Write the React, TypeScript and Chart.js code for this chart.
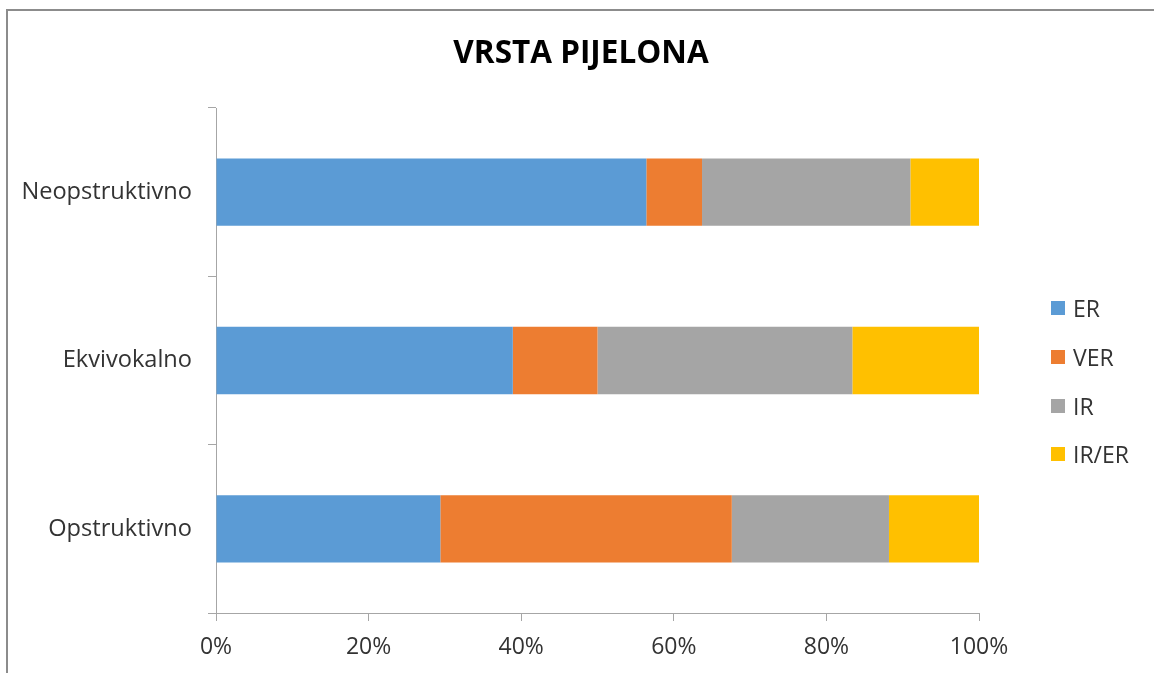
import React, { useEffect, useRef } from "react";
import { Chart, registerables } from "chart.js";

Chart.register(...registerables);

const TITLE = "VRSTA PIJELONA";
const categories = ["Neopstruktivno", "Ekvivokalno", "Opstruktivno"];
const seriesNames = ["ER", "VER", "IR", "IR/ER"];
const seriesColors = ["#5B9BD5", "#ED7D31", "#A5A5A5", "#FFC000"];
// percentage shares per category
const erValues = [56.4, 38.9, 29.4];
const verValues = [7.3, 11.1, 38.2];
const irValues = [27.3, 33.4, 20.6];
const irErValues = [9.0, 16.6, 11.8];
const xTicks = [0, 20, 40, 60, 80, 100];

const FONT = "'Open Sans', 'DejaVu Sans', sans-serif";
const AXIS_COLOR = "#A6A6A6";
const TEXT_COLOR = "#333333";

export default function App() {
  const canvasRef = useRef<HTMLCanvasElement | null>(null);

  useEffect(() => {
    const canvas = canvasRef.current;
    if (!canvas) return;
    const values = [erValues, verValues, irValues, irErValues];
    const chart = new Chart(canvas, {
      type: "bar",
      data: {
        labels: categories,
        datasets: seriesNames.map((name, i) => ({
          label: name,
          data: values[i],
          backgroundColor: seriesColors[i],
          borderWidth: 0,
          barPercentage: 0.4,
          categoryPercentage: 1,
        })),
      },
      options: {
        indexAxis: "y",
        responsive: false,
        animation: false,
        layout: { padding: { left: 0, right: 175, top: 108, bottom: 0 } },
        plugins: {
          legend: { display: false },
          tooltip: { enabled: false },
          title: { display: false },
        },
        scales: {
          x: {
            stacked: true,
            min: 0,
            max: 100,
            afterFit: (scale: any) => {
              scale.height = 60;
            },
            afterBuildTicks: (scale: any) => {
              scale.ticks = xTicks.map((v) => ({ value: v }));
            },
            ticks: {
              color: TEXT_COLOR,
              font: { family: FONT, size: 23 },
              padding: 13,
              callback: (v: any) => v + "%",
              maxRotation: 0,
            },
            grid: {
              drawOnChartArea: false,
              drawTicks: true,
              tickLength: 8,
              color: AXIS_COLOR,
            },
            border: { display: true, color: AXIS_COLOR, width: 1 },
          },
          y: {
            stacked: true,
            afterFit: (scale: any) => {
              scale.width = 216;
            },
            ticks: {
              color: TEXT_COLOR,
              font: { family: FONT, size: 23.6 },
              padding: 16,
            },
            grid: {
              offset: true,
              drawOnChartArea: false,
              drawTicks: true,
              tickLength: 8,
              color: AXIS_COLOR,
            },
            border: { display: true, color: AXIS_COLOR, width: 1 },
          },
        },
      },
    } as any);
    return () => chart.destroy();
  }, []);

  const legendTops = [308, 357, 406, 454];

  return (
    <div
      style={{
        position: "fixed",
        left: 0,
        top: 0,
        width: 1154,
        height: 673,
        overflow: "hidden",
        background: "#ffffff",
      }}
    >
      <div
        style={{
          position: "absolute",
          left: 6,
          top: 9,
          width: 1170,
          height: 690,
          borderLeft: "2px solid #8c8c8c",
          borderTop: "2px solid #8c8c8c",
          boxSizing: "border-box",
        }}
      />
      <canvas
        ref={canvasRef}
        width={1154}
        height={673}
        style={{ position: "absolute", left: 0, top: 0, width: 1154, height: 673 }}
      />
      <div
        style={{
          position: "absolute",
          left: 0,
          top: 33,
          width: 1162,
          textAlign: "center",
          fontFamily: FONT,
          fontSize: 31.5,
          fontWeight: "bold",
          lineHeight: "36px",
          color: "#000000",
          whiteSpace: "nowrap",
        }}
      >
        {TITLE}
      </div>
      {seriesNames.map((name, i) => (
        <div
          key={name}
          style={{
            position: "absolute",
            left: 1051,
            top: legendTops[i] - 15,
            height: 30,
            display: "flex",
            alignItems: "center",
            fontFamily: FONT,
            fontSize: 23,
            color: TEXT_COLOR,
            whiteSpace: "nowrap",
          }}
        >
          <span
            style={{
              display: "inline-block",
              width: 14,
              height: 14,
              background: seriesColors[i],
              marginRight: 8,
            }}
          />
          <span>{name}</span>
        </div>
      ))}
    </div>
  );
}
